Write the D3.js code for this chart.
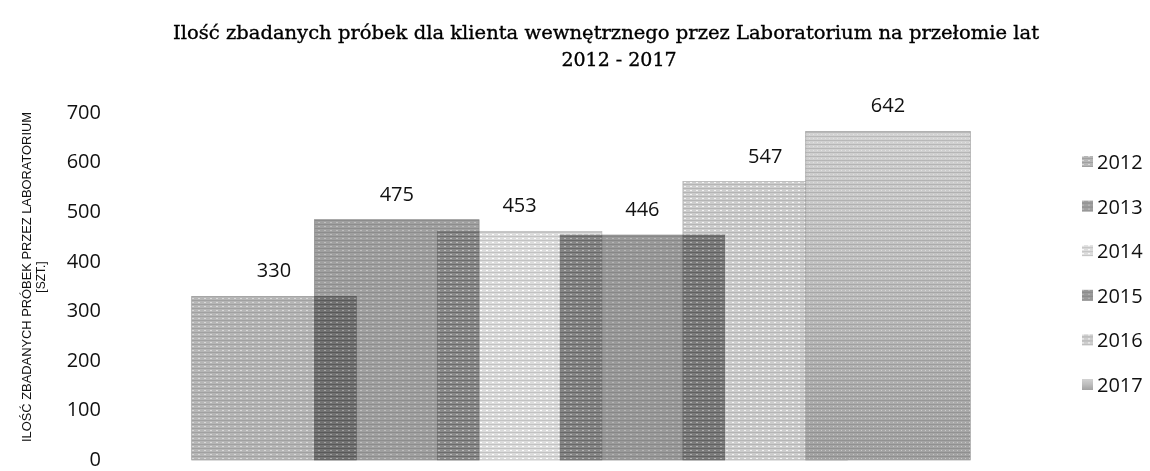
<!DOCTYPE html>
<html>
<head>
<meta charset="utf-8">
<style>
body { margin: 0; background: #fff; }
svg { display: block; }
.title { font-family: "DejaVu Serif", serif; font-size: 19px; fill: #000; stroke: #000; stroke-width: 0.35px; }
.tick-label, .value, .legend text { font-family: "Open Sans", "Liberation Sans", sans-serif; font-size: 20px; fill: #111; }
.ytitle { font-family: "Liberation Sans Narrow", "Liberation Sans", sans-serif; font-size: 12px; fill: #111; }
.blend { mix-blend-mode: multiply; }
</style>
</head>
<body>
<svg width="1150" height="471"></svg>
<script src="https://cdn.jsdelivr.net/npm/d3@7"></script>
<script>

// data
var years = ["2012", "2013", "2014", "2015", "2016", "2017"];
var samples = [330, 475, 453, 446, 547, 642];
var yTicks = [0, 100, 200, 300, 400, 500, 600, 700];
var barGrays = ["#b6b6b6", "#a0a0a0", "#dcdcdc", "#9a9a9a", "#cdcdcd", "#bbbbbb"];
var titleLines = ["Ilość zbadanych próbek dla klienta wewnętrznego przez Laboratorium na przełomie lat", "2012 - 2017"];
var yTitleLines = ["ILOŚĆ ZBADANYCH PRÓBEK PRZEZ  LABORATORIUM", "[SZT.]"];

var svg = d3.select("svg");

// axis labels sit on the back wall, bars on the front face (3d look)
var yAxisScale = d3.scaleLinear().domain([0, 700]).range([459, 112]);
var yBar = d3.scaleLinear().domain([0, 700]).range([471, 100.7]);
var x = d3.scalePoint().domain(years).range([274, 888]);
var barW = x.step() * 1.34;
var floorY = 460;

var defs = svg.append("defs");

// striped fill to mimic the printed texture
barGrays.forEach(function(c, i) {
  var p = defs.append("pattern")
    .attr("id", "pat" + i)
    .attr("patternUnits", "userSpaceOnUse")
    .attr("width", 6).attr("height", 4);
  p.append("rect").attr("width", 6).attr("height", 4).attr("fill", c);
  p.append("rect").attr("y", 0).attr("width", 6).attr("height", 1)
    .attr("fill", d3.color(c).darker(0.35));
  p.append("rect").attr("x", 0).attr("y", 2).attr("width", 2).attr("height", 1)
    .attr("fill", d3.color(c).brighter(0.5));
});

// the 2017 bar gets darker toward the floor
var grad = defs.append("linearGradient")
  .attr("id", "grad2017")
  .attr("x1", 0).attr("x2", 0).attr("y1", 0).attr("y2", 1);
grad.append("stop").attr("offset", "0%").attr("stop-color", "#d2d2d2");
grad.append("stop").attr("offset", "50%").attr("stop-color", "#bdbdbd");
grad.append("stop").attr("offset", "100%").attr("stop-color", "#a2a2a2");

var tex = defs.append("pattern")
  .attr("id", "tex")
  .attr("patternUnits", "userSpaceOnUse")
  .attr("width", 4).attr("height", 4);
tex.append("rect").attr("width", 4).attr("height", 1).attr("fill", "#000").attr("opacity", 0.12);
tex.append("rect").attr("x", 1).attr("y", 2).attr("width", 1).attr("height", 1).attr("fill", "#fff").attr("opacity", 0.4);

// title
svg.append("text")
  .attr("class", "title")
  .attr("x", 606).attr("y", 39)
  .attr("text-anchor", "middle")
  .attr("textLength", 866)
  .attr("lengthAdjust", "spacingAndGlyphs")
  .text(titleLines[0]);
svg.append("text")
  .attr("class", "title")
  .attr("x", 619).attr("y", 66)
  .attr("text-anchor", "middle")
  .text(titleLines[1]);

// y axis, labels only
var gy = svg.append("g")
  .attr("transform", "translate(101,0)")
  .call(d3.axisLeft(yAxisScale).tickValues(yTicks).tickSize(0).tickPadding(0));
gy.select(".domain").remove();
gy.selectAll("text").attr("class", "tick-label").attr("font-size", null).attr("font-family", null);

// y axis title
yTitleLines.forEach(function(t, i) {
  svg.append("text")
    .attr("class", "ytitle")
    .attr("transform", "translate(" + (31 + i * 14) + ",277) rotate(-90)")
    .attr("text-anchor", "middle")
    .attr("textLength", i == 0 ? 330 : null)
    .attr("lengthAdjust", "spacingAndGlyphs")
    .text(t);
});

// bars
var data = years.map(function(y, i) { return {year: y, value: samples[i], i: i}; });

// 2012-2016 overlap with multiply blending, 2017 sits in front
var bars = svg.append("g").selectAll(".bar")
  .data(data)
  .enter().append("rect")
  .attr("class", function(d) { return d.year == "2017" ? "bar" : "bar blend"; })
  .attr("x", function(d) { return x(d.year) - barW / 2; })
  .attr("width", barW)
  .attr("y", function(d) { return yBar(d.value); })
  .attr("height", function(d) { return floorY - yBar(d.value); })
  .attr("fill", function(d) { return d.year == "2017" ? "url(#grad2017)" : "url(#pat" + d.i + ")"; })
  .attr("stroke", function(d) { return d3.color(barGrays[d.i]).darker(0.5); })
  .attr("stroke-width", 0.7);

// printed texture over the last bar
svg.append("rect")
  .attr("x", x("2017") - barW / 2)
  .attr("width", barW)
  .attr("y", yBar(samples[5]))
  .attr("height", floorY - yBar(samples[5]))
  .attr("fill", "url(#tex)");

// value labels
svg.append("g").selectAll(".value")
  .data(data)
  .enter().append("text")
  .attr("class", "value")
  .attr("x", function(d) { return x(d.year); })
  .attr("y", function(d) { return yBar(d.value) - 26; })
  .attr("dy", "0.35em")
  .attr("text-anchor", "middle")
  .text(function(d) { return d.value; });

// legend
var legend = svg.append("g").attr("class", "legend")
  .selectAll("g")
  .data(data)
  .enter().append("g")
  .attr("transform", function(d) { return "translate(1082," + (162 + d.i * 44.6) + ")"; });

legend.append("rect")
  .attr("x", 0).attr("y", -6)
  .attr("width", 11).attr("height", 11)
  .attr("fill", function(d) { return d.year == "2017" ? "url(#grad2017)" : "url(#pat" + d.i + ")"; });

legend.append("text")
  .attr("x", 15)
  .attr("dy", "0.35em")
  .text(function(d) { return d.year; });

</script>
</body>
</html>
